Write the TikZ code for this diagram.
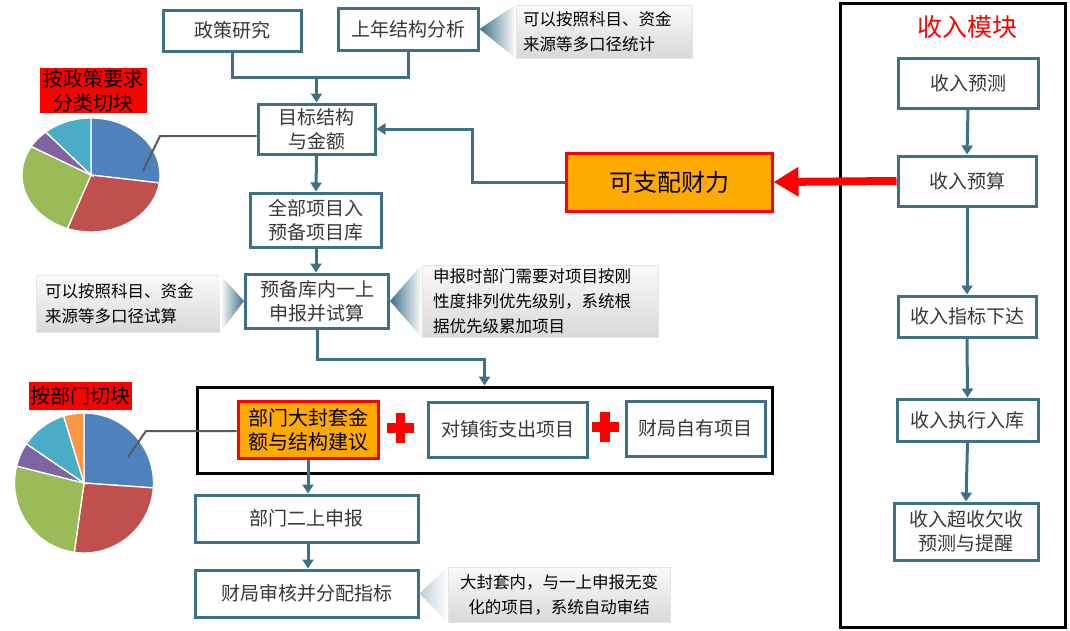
\documentclass[tikz,border=0pt]{standalone}
\usepackage{fontspec}
\setmainfont{Noto Sans CJK SC}
\usetikzlibrary{arrows.meta}
\definecolor{tealb}{RGB}{62,112,135}
\definecolor{orangeb}{RGB}{255,170,0}
\definecolor{pblue}{RGB}{79,129,189}
\definecolor{pred}{RGB}{192,80,77}
\definecolor{pgreen}{RGB}{155,187,89}
\definecolor{ppurple}{RGB}{128,100,162}
\definecolor{pcyan}{RGB}{75,172,198}
\definecolor{porange}{RGB}{247,150,70}
\definecolor{leadc}{RGB}{89,89,89}
\newcommand{\fsA}{\fontsize{19}{24}\selectfont}
\newcommand{\fsB}{\fontsize{16.5}{25}\selectfont}
\newcommand{\fsC}{\fontsize{20}{24}\selectfont}
\newcommand{\fsD}{\fontsize{24}{28}\selectfont}
\newcommand{\fsE}{\fontsize{25}{30}\selectfont}
\tikzset{
  box/.style={draw=tealb, line width=3pt, fill=white, align=center, font=\fsA, text=black!78, inner sep=0pt},
  hotbox/.style={draw=red, line width=3pt, fill=orangeb, align=center, text=black, inner sep=0pt},
  callout/.style={top color=black!2, bottom color=black!15, draw=black!10, line width=0.6pt, font=\fsB, text=black, inner sep=0pt},
  redlabel/.style={fill=red, font=\fsC, text=black, align=center, inner sep=0pt},
  frame/.style={draw=black, line width=3pt, inner sep=0pt},
  conn/.style={draw=tealb, line width=3pt},
  arr/.style={conn, -{Triangle[width=11pt,length=9pt]}},
  bigarr/.style={draw=red, line width=8pt, -{Triangle[width=28pt,length=25pt]}},
  leader/.style={draw=leadc, line width=2pt},
  slice/.style={draw=white, line width=1.3pt},
}
\begin{document}
\begin{tikzpicture}[x=1pt,y=-1pt]
\useasboundingbox (0,0) rectangle (1070,630);

% ---------------- right panel ----------------
\node[frame, minimum width=225pt, minimum height=624pt] (rp) at (953,315) {};
\node[font=\fsE, text=red] (rt) at (967,27) {收入模块};
\node[box, minimum width=140pt, minimum height=50pt] (s1) at (968,83) {收入预测};
\node[box, minimum width=138pt, minimum height=50pt] (s2) at (967,181) {收入预算};
\node[box, minimum width=138pt, minimum height=41pt] (s3) at (967,316.5) {收入指标下达};
\node[box, minimum width=141pt, minimum height=42pt] (s4) at (967.5,420) {收入执行入库};
\node[box, minimum width=144pt, minimum height=57pt] (s5) at (966,531.5) {收入超收欠收\\预测与提醒};
\draw[arr] (s1.south) -- (s2.north);
\draw[arr] (s2.south) -- (s3.north);
\draw[arr] (s3.south) -- (s4.north);
\draw[arr] (s4.south) -- (s5.north);

% ---------------- callout triangles ----------------
\node[callout, minimum width=176pt, minimum height=53pt, text width=162pt, align=left] (c1) at (604,31.5) {可以按照科目、资金\\来源等多口径统计};
\node[callout, minimum width=184pt, minimum height=57pt, text width=166pt, align=left] (c2) at (128,303.5) {可以按照科目、资金\\来源等多口径试算};
\node[callout, minimum width=236pt, minimum height=72pt, text width=214pt, align=left] (c3) at (540,301) {申报时部门需要对项目按刚\\性度排列优先级别，系统根\\据优先级累加项目};
\node[callout, minimum width=222pt, minimum height=55pt, text width=214pt, align=center] (c4) at (559,594.5) {大封套内，与一上申报无变\\化的项目，系统自动审结};

% ---------------- top flow ----------------
\node[box, minimum width=138pt, minimum height=41pt] (zc) at (232,30.5) {政策研究};
\node[box, minimum width=140pt, minimum height=42pt] (sn) at (408,29) {上年结构分析};
\node[box, minimum width=117pt, minimum height=50pt] (mb) at (316.5,129) {目标结构\\与金额};
\node[hotbox, font=\fsD, minimum width=206pt, minimum height=58pt] (kz) at (669,182) {可支配财力};
\node[box, minimum width=131pt, minimum height=54pt] (qb) at (316,220) {全部项目入\\预备项目库};
\node[box, minimum width=143pt, minimum height=54pt] (yb) at (317,301) {预备库内一上\\申报并试算};

% triangles (drawn before box borders are finished; on top of callouts)
\shade[left color=tealb, right color=white] (sn.east) -- (c1.north west) -- (c1.south west) -- cycle;
\shade[left color=white, right color=tealb] (c2.north east) -- (yb.west) -- (c2.south east) -- cycle;
\shade[left color=tealb, right color=white] (yb.east) -- (c3.north west) -- (c3.south west) -- cycle;

\coordinate (j1) at (316.5,77);
\draw[conn] (zc.south) |- (j1);
\draw[conn] (sn.south) |- (j1);
\draw[arr] (j1) -- (mb.north);
\coordinate (k1) at (472,182);
\draw[arr] (kz.west) -- (k1) |- (mb.east);
\draw[bigarr] (s2.west) -- (kz.east);
\draw[arr] (mb.south) -- (qb.north);
\draw[arr] (qb.south) -- (yb.north -| qb.south);

% ---------------- middle group ----------------
\node[frame, minimum width=575pt, minimum height=86pt] (br) at (484.5,430) {};
\draw[arr] (yb.south) -- ++(0,30) -| (br.north);
\node[hotbox, font=\fsC, minimum width=140pt, minimum height=57pt] (fb) at (308,429.5) {部门大封套金\\额与结构建议};
\node[box, minimum width=159pt, minimum height=55pt] (dz) at (507.5,429.5) {对镇街支出项目};
\node[box, minimum width=139pt, minimum height=55pt] (cz) at (695.5,428.5) {财局自有项目};
\coordinate (pl1) at (400.5,428);
\coordinate (pl2) at (605,427);
\foreach \p in {pl1,pl2}{
  \fill[red] (\p) ++(-13.5,-4.75) rectangle ++(27,9.5);
  \fill[red] (\p) ++(-4.75,-15) rectangle ++(9.5,30);
}

% ---------------- bottom flow ----------------
\node[box, minimum width=223pt, minimum height=47pt] (eb) at (306.5,518.5) {部门二上申报};
\node[box, minimum width=223pt, minimum height=47pt] (cs) at (306.5,593.5) {财局审核并分配指标};
\draw[arr] (fb.south) -- (fb.south |- eb.north);
\draw[arr] (eb.south -| fb.south) -- (cs.north -| fb.south);
\shade[left color=tealb!35, right color=white] (cs.east) -- (c4.north west) -- (c4.south west) -- cycle;

% ---------------- pies ----------------
\node[redlabel, minimum width=107pt, minimum height=45pt] (l1) at (93.5,90.5) {按政策要求\\分类切块};
\begin{scope}[shift={(91,175)}, yscale=-1]
  \foreach \a/\b/\c in {90/-8/pblue, -8/-110/pred, -110/-210/pgreen, -210/-229/ppurple, -229/-270/pcyan}
    \filldraw[slice, fill=\c] (0,0) -- (\a:69 and 57) arc[start angle=\a, end angle=\b, x radius=69, y radius=57] -- cycle;
\end{scope}
\coordinate (p1a) at (143,171);
\coordinate (p1b) at (160,136);
\draw[leader] (p1a) -- (p1b) -- (p1b -| mb.west);

\node[redlabel, minimum width=103pt, minimum height=28pt] (l2) at (80.5,396) {按部门切块};
\begin{scope}[shift={(84,483)}, yscale=-1]
  \foreach \a/\b/\c in {90/-4/pblue, -4/-98/pred, -98/-194/pgreen, -194/-214/ppurple, -214/-253/pcyan, -253/-270/porange}
    \filldraw[slice, fill=\c] (0,0) -- (\a:69.5 and 70) arc[start angle=\a, end angle=\b, x radius=69.5, y radius=70] -- cycle;
\end{scope}
\coordinate (p2a) at (128,457);
\coordinate (p2b) at (146,431);
\draw[leader] (p2a) -- (p2b) -- (p2b -| fb.west);
\end{tikzpicture}
\end{document}
